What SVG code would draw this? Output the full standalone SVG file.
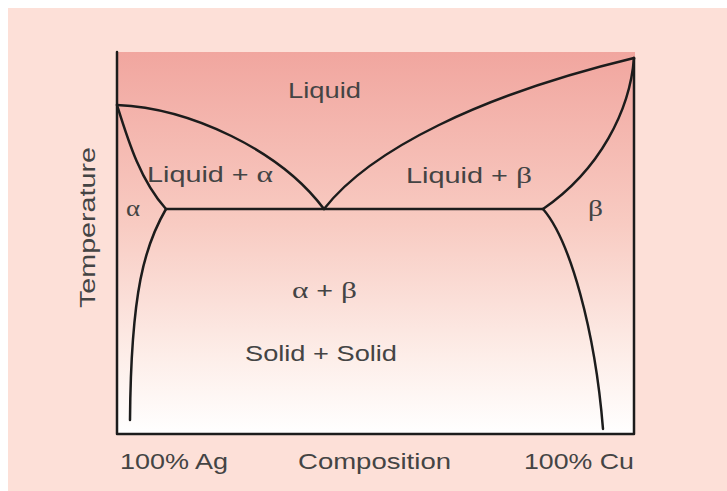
<svg xmlns="http://www.w3.org/2000/svg" width="727" height="491" viewBox="0 0 727 491">
<defs>
<linearGradient id="heat" x1="0" y1="0" x2="0" y2="1">
<stop offset="0" stop-color="#f1a69f"/>
<stop offset="0.45" stop-color="#f8cbc2"/>
<stop offset="0.8" stop-color="#fdeee9"/>
<stop offset="1" stop-color="#ffffff"/>
</linearGradient>
<style>
.ln{fill:none;stroke:#1c1c1c;stroke-width:2.5;stroke-linejoin:round;stroke-linecap:round}
.t{font-family:"Liberation Sans",Arial,sans-serif;font-size:22px;fill:#444444}
.g{font-family:"Liberation Serif","Times New Roman",serif;font-size:24px}
</style>
</defs>
<rect x="0" y="0" width="727" height="491" fill="#ffffff"/>
<rect x="8" y="8" width="719" height="483" fill="#fde0d8"/>
<rect x="117" y="52" width="518" height="382" fill="url(#heat)"/>
<g id="axes">
<path class="ln" d="M117,52 L117,434 L634,434 L634,58"/>
</g>
<g id="curves">
<path class="ln" d="M117,105 C190,108 280,150 324,209"/>
<path class="ln" d="M117,105 C128,140 140,180 166,209"/>
<path class="ln" d="M166,209 L543,209"/>
<path class="ln" d="M166,209 C145,245 131,290 130,420"/>
<path class="ln" d="M324,209 C370,150 480,95 634,58"/>
<path class="ln" d="M634,58 C630,110 600,170 543,209"/>
<path class="ln" d="M543,209 C570,240 595,330 603,429"/>
</g>
<g id="region-liquid"><text class="t" x="288" y="98" textLength="73" lengthAdjust="spacingAndGlyphs">Liquid</text></g>
<g id="region-liquid-alpha"><text class="t" x="147" y="182" textLength="126" lengthAdjust="spacingAndGlyphs">Liquid + <tspan class="g">α</tspan></text></g>
<g id="region-alpha"><text class="t g" x="126" y="216" textLength="14" lengthAdjust="spacingAndGlyphs">α</text></g>
<g id="region-liquid-beta"><text class="t" x="406" y="183" textLength="126" lengthAdjust="spacingAndGlyphs">Liquid + <tspan class="g">β</tspan></text></g>
<g id="region-beta"><text class="t g" x="588" y="216" textLength="15" lengthAdjust="spacingAndGlyphs">β</text></g>
<g id="region-alpha-beta">
<text class="t" x="292" y="298" textLength="65" lengthAdjust="spacingAndGlyphs"><tspan class="g">α</tspan> + <tspan class="g">β</tspan></text>
<text class="t" x="245" y="361" textLength="152" lengthAdjust="spacingAndGlyphs">Solid + Solid</text>
</g>
<g id="labels">
<text class="t" transform="translate(95,308) rotate(-90)" x="0" y="0" textLength="161" lengthAdjust="spacingAndGlyphs">Temperature</text>
<text class="t" x="120" y="469" textLength="108" lengthAdjust="spacingAndGlyphs">100% Ag</text>
<text class="t" x="298" y="469" textLength="153" lengthAdjust="spacingAndGlyphs">Composition</text>
<text class="t" x="524" y="469" textLength="110" lengthAdjust="spacingAndGlyphs">100% Cu</text>
</g>
</svg>
